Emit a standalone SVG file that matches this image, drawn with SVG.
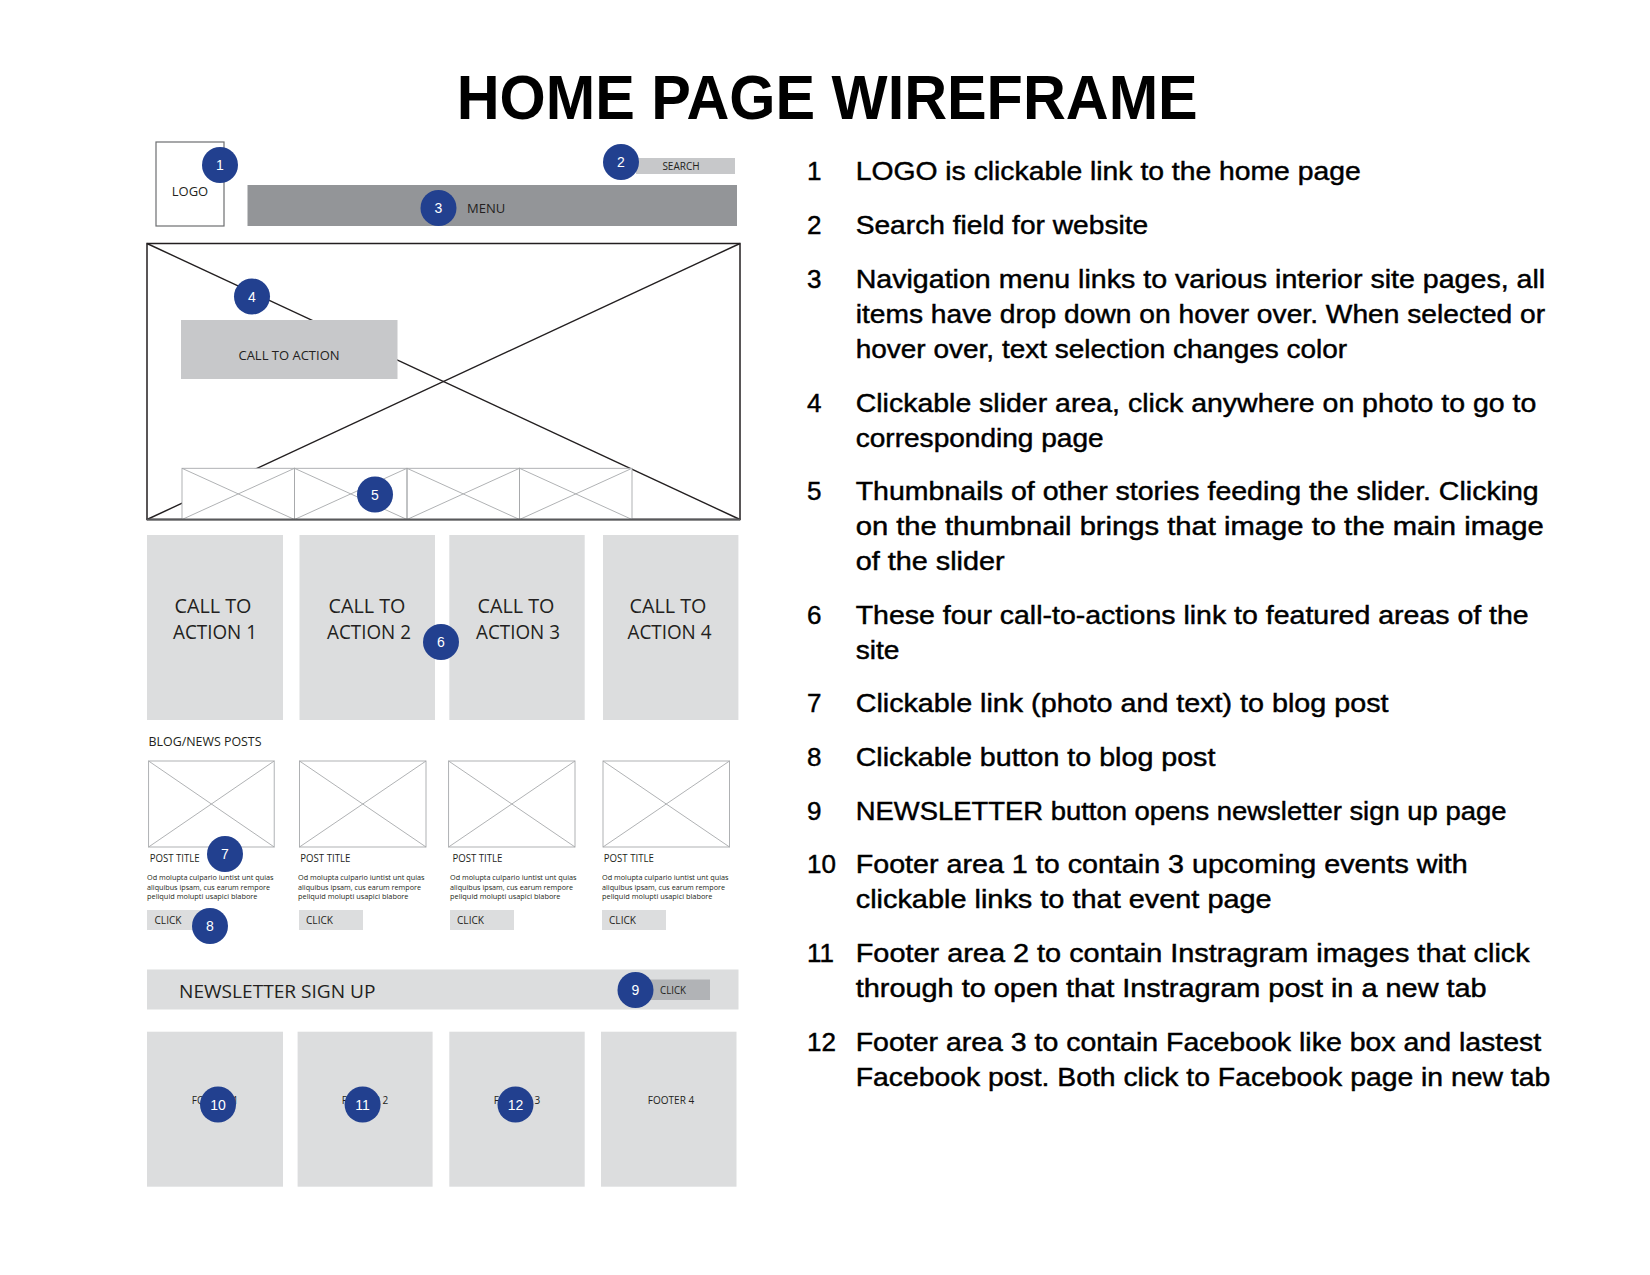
<svg xmlns="http://www.w3.org/2000/svg" width="1650" height="1275" viewBox="0 0 1650 1275">
<style>
  .wf { font-family: "Open Sans", "Liberation Sans", sans-serif; fill: #231f20; }
  .note { font-family: "Liberation Sans", Arial, sans-serif; font-size: 26px; fill: #000; stroke: #000; stroke-width: 0.45px; }
  .title { font-family: "Liberation Sans", Arial, sans-serif; font-size: 63px; font-weight: bold; fill: #000; }
  .badge circle { fill: #22408f; }
  .badge text { font-family: "Liberation Sans", Arial, sans-serif; font-size: 14px; fill: #fff; text-anchor: middle; }
  .lgray { fill: #dcddde; }
  .mgray { fill: #c7c8ca; }
  .thin { fill: #fff; stroke: #a7a9ac; stroke-width: 0.9; }
  .thinx { stroke: #a7a9ac; stroke-width: 0.9; fill: none; }
  .heavy { stroke: #231f20; stroke-width: 1.4; fill: none; }
</style>
<rect width="1650" height="1275" fill="#fff"/>

<text class="title" x="456.7" y="119" textLength="741" lengthAdjust="spacingAndGlyphs">HOME PAGE WIREFRAME</text>

<!-- header -->
<g id="logo">
  <rect x="156" y="142" width="68" height="84" fill="#fff" stroke="#6d6e71" stroke-width="1.2"/>
  <text class="wf" x="190" y="195.5" font-size="13" text-anchor="middle">LOGO</text>
</g>
<g id="search">
  <rect class="mgray" x="636" y="158" width="99" height="16"/>
  <text class="wf" x="681" y="169.5" font-size="10" text-anchor="middle">SEARCH</text>
</g>
<g id="menu">
  <rect x="247.5" y="185" width="489.5" height="41" fill="#939598"/>
  <text class="wf" x="467" y="212.5" font-size="13">MENU</text>
</g>

<!-- hero slider -->
<g id="slider">
  <rect x="147" y="243.5" width="593" height="276" fill="#fff" stroke="#231f20" stroke-width="1.5"/>
  <line class="heavy" x1="147" y1="243.5" x2="740" y2="519.5"/>
  <line class="heavy" x1="740" y1="243.5" x2="147" y2="519.5"/>
</g>
<g id="hero-cta">
  <rect class="mgray" x="181" y="320" width="216.5" height="59"/>
  <text class="wf" x="289" y="359.5" font-size="13" text-anchor="middle">CALL TO ACTION</text>
</g>
<g id="thumbnails">
  <rect x="182" y="468.3" width="450" height="51.2" fill="#fff"/>
  <g class="thinx">
    <rect x="182" y="468.3" width="112.5" height="51.2"/>
    <line x1="182" y1="468.3" x2="294.5" y2="519.5"/><line x1="294.5" y1="468.3" x2="182" y2="519.5"/>
    <rect x="294.5" y="468.3" width="112.5" height="51.2"/>
    <line x1="294.5" y1="468.3" x2="407" y2="519.5"/><line x1="407" y1="468.3" x2="294.5" y2="519.5"/>
    <rect x="407" y="468.3" width="112.5" height="51.2"/>
    <line x1="407" y1="468.3" x2="519.5" y2="519.5"/><line x1="519.5" y1="468.3" x2="407" y2="519.5"/>
    <rect x="519.5" y="468.3" width="112.5" height="51.2"/>
    <line x1="519.5" y1="468.3" x2="632" y2="519.5"/><line x1="632" y1="468.3" x2="519.5" y2="519.5"/>
  </g>
  <line x1="147" y1="519.5" x2="740" y2="519.5" stroke="#58595b" stroke-width="1.8"/>
</g>

<!-- call to action boxes -->
<g id="cta1">
  <rect class="lgray" x="147" y="535" width="136" height="185"/>
  <text class="wf" font-size="20" text-anchor="middle"><tspan x="213" y="613" textLength="77" lengthAdjust="spacingAndGlyphs">CALL TO</tspan><tspan x="215" y="638.7" textLength="84" lengthAdjust="spacingAndGlyphs">ACTION 1</tspan></text>
</g>
<g id="cta2">
  <rect class="lgray" x="299.5" y="535" width="135.5" height="185"/>
  <text class="wf" font-size="20" text-anchor="middle"><tspan x="367" y="613" textLength="77" lengthAdjust="spacingAndGlyphs">CALL TO</tspan><tspan x="369" y="638.7" textLength="84" lengthAdjust="spacingAndGlyphs">ACTION 2</tspan></text>
</g>
<g id="cta3">
  <rect class="lgray" x="449.3" y="535" width="135.4" height="185"/>
  <text class="wf" font-size="20" text-anchor="middle"><tspan x="516" y="613" textLength="77" lengthAdjust="spacingAndGlyphs">CALL TO</tspan><tspan x="518" y="638.7" textLength="84" lengthAdjust="spacingAndGlyphs">ACTION 3</tspan></text>
</g>
<g id="cta4">
  <rect class="lgray" x="603" y="535" width="135.4" height="185"/>
  <text class="wf" font-size="20" text-anchor="middle"><tspan x="668" y="613" textLength="77" lengthAdjust="spacingAndGlyphs">CALL TO</tspan><tspan x="669.5" y="638.7" textLength="84" lengthAdjust="spacingAndGlyphs">ACTION 4</tspan></text>
</g>

<!-- blog posts -->
<text class="wf" x="148.5" y="745.5" font-size="12" textLength="113" lengthAdjust="spacingAndGlyphs">BLOG/NEWS POSTS</text>
<g id="post1">
  <rect class="thin" x="148.6" y="761" width="125.6" height="86"/>
  <line class="thinx" x1="148.6" y1="761" x2="274.2" y2="847"/><line class="thinx" x1="274.2" y1="761" x2="148.6" y2="847"/>
  <text class="wf" x="149.7" y="862" font-size="10" textLength="50" lengthAdjust="spacingAndGlyphs">POST TITLE</text>
  <text class="wf" font-size="8"><tspan x="147" y="879.5" textLength="126.5" lengthAdjust="spacingAndGlyphs">Od molupta culpario iuntist unt quias</tspan><tspan x="147" y="889.5" textLength="123" lengthAdjust="spacingAndGlyphs">aliquibus ipsam, cus earum rempore</tspan><tspan x="147" y="899" textLength="110.5" lengthAdjust="spacingAndGlyphs">peliquid molupti usapici blabore</tspan></text>
  <rect class="lgray" x="147" y="910" width="64" height="20"/>
  <text class="wf" x="154.5" y="924" font-size="10" textLength="27" lengthAdjust="spacingAndGlyphs">CLICK</text>
</g>
<g id="post2">
  <rect class="thin" x="299.5" y="761" width="126.5" height="86"/>
  <line class="thinx" x1="299.5" y1="761" x2="426" y2="847"/><line class="thinx" x1="426" y1="761" x2="299.5" y2="847"/>
  <text class="wf" x="300.3" y="862" font-size="10" textLength="50" lengthAdjust="spacingAndGlyphs">POST TITLE</text>
  <text class="wf" font-size="8"><tspan x="298" y="879.5" textLength="126.5" lengthAdjust="spacingAndGlyphs">Od molupta culpario iuntist unt quias</tspan><tspan x="298" y="889.5" textLength="123" lengthAdjust="spacingAndGlyphs">aliquibus ipsam, cus earum rempore</tspan><tspan x="298" y="899" textLength="110.5" lengthAdjust="spacingAndGlyphs">peliquid molupti usapici blabore</tspan></text>
  <rect class="lgray" x="299" y="910" width="64" height="20"/>
  <text class="wf" x="306" y="924" font-size="10" textLength="27" lengthAdjust="spacingAndGlyphs">CLICK</text>
</g>
<g id="post3">
  <rect class="thin" x="448.6" y="761" width="126.4" height="86"/>
  <line class="thinx" x1="448.6" y1="761" x2="575" y2="847"/><line class="thinx" x1="575" y1="761" x2="448.6" y2="847"/>
  <text class="wf" x="452.4" y="862" font-size="10" textLength="50" lengthAdjust="spacingAndGlyphs">POST TITLE</text>
  <text class="wf" font-size="8"><tspan x="450" y="879.5" textLength="126.5" lengthAdjust="spacingAndGlyphs">Od molupta culpario iuntist unt quias</tspan><tspan x="450" y="889.5" textLength="123" lengthAdjust="spacingAndGlyphs">aliquibus ipsam, cus earum rempore</tspan><tspan x="450" y="899" textLength="110.5" lengthAdjust="spacingAndGlyphs">peliquid molupti usapici blabore</tspan></text>
  <rect class="lgray" x="450" y="910" width="64" height="20"/>
  <text class="wf" x="457" y="924" font-size="10" textLength="27" lengthAdjust="spacingAndGlyphs">CLICK</text>
</g>
<g id="post4">
  <rect class="thin" x="603" y="761" width="126.5" height="86"/>
  <line class="thinx" x1="603" y1="761" x2="729.5" y2="847"/><line class="thinx" x1="729.5" y1="761" x2="603" y2="847"/>
  <text class="wf" x="603.8" y="862" font-size="10" textLength="50" lengthAdjust="spacingAndGlyphs">POST TITLE</text>
  <text class="wf" font-size="8"><tspan x="602" y="879.5" textLength="126.5" lengthAdjust="spacingAndGlyphs">Od molupta culpario iuntist unt quias</tspan><tspan x="602" y="889.5" textLength="123" lengthAdjust="spacingAndGlyphs">aliquibus ipsam, cus earum rempore</tspan><tspan x="602" y="899" textLength="110.5" lengthAdjust="spacingAndGlyphs">peliquid molupti usapici blabore</tspan></text>
  <rect class="lgray" x="602" y="910" width="64" height="20"/>
  <text class="wf" x="609" y="924" font-size="10" textLength="27" lengthAdjust="spacingAndGlyphs">CLICK</text>
</g>

<!-- newsletter -->
<g id="newsletter">
  <rect class="lgray" x="147" y="969.5" width="591.5" height="40"/>
  <text class="wf" x="179" y="998" font-size="18.5" textLength="196.5" lengthAdjust="spacingAndGlyphs">NEWSLETTER SIGN UP</text>
  <rect x="646" y="979.5" width="64" height="20.5" fill="#b1b3b6"/>
  <text class="wf" x="660" y="993.5" font-size="10" textLength="26" lengthAdjust="spacingAndGlyphs">CLICK</text>
</g>

<!-- footers -->
<g id="footer1">
  <rect class="lgray" x="147" y="1031.7" width="136" height="155"/>
  <text class="wf" x="215" y="1103.5" font-size="10" text-anchor="middle">FOOTER 1</text>
</g>
<g id="footer2">
  <rect class="lgray" x="297.6" y="1031.7" width="135" height="155"/>
  <text class="wf" x="365" y="1103.5" font-size="10" text-anchor="middle">FOOTER 2</text>
</g>
<g id="footer3">
  <rect class="lgray" x="449.3" y="1031.7" width="135.4" height="155"/>
  <text class="wf" x="517" y="1103.5" font-size="10" text-anchor="middle">FOOTER 3</text>
</g>
<g id="footer4">
  <rect class="lgray" x="601" y="1031.7" width="135.5" height="155"/>
  <text class="wf" x="671" y="1103.5" font-size="10" text-anchor="middle">FOOTER 4</text>
</g>

<!-- numbered badges -->
<g id="badges" class="badge">
  <g id="badge1"><circle cx="220" cy="165" r="18"/><text x="220" y="170">1</text></g>
  <g id="badge2"><circle cx="621" cy="162" r="18"/><text x="621" y="167">2</text></g>
  <g id="badge3"><circle cx="438.5" cy="208" r="18"/><text x="438.5" y="213">3</text></g>
  <g id="badge4"><circle cx="252" cy="296.5" r="18"/><text x="252" y="301.5">4</text></g>
  <g id="badge5"><circle cx="375" cy="494.5" r="18"/><text x="375" y="499.5">5</text></g>
  <g id="badge6"><circle cx="441" cy="642" r="18"/><text x="441" y="647">6</text></g>
  <g id="badge7"><circle cx="225" cy="854" r="18"/><text x="225" y="859">7</text></g>
  <g id="badge8"><circle cx="210" cy="926" r="18"/><text x="210" y="931">8</text></g>
  <g id="badge9"><circle cx="635.5" cy="990" r="18"/><text x="635.5" y="995">9</text></g>
  <g id="badge10"><circle cx="218" cy="1104.5" r="18"/><text x="218" y="1109.5">10</text></g>
  <g id="badge11"><circle cx="362.6" cy="1104.5" r="18"/><text x="362.6" y="1109.5">11</text></g>
  <g id="badge12"><circle cx="515.5" cy="1104.5" r="18"/><text x="515.5" y="1109.5">12</text></g>
</g>

<!-- notes -->
<g id="notes" class="note">
  <text x="807" y="179.5">1</text>
  <text x="855.7" y="179.5" textLength="505" lengthAdjust="spacingAndGlyphs">LOGO is clickable link to the home page</text>
  <text x="807" y="233.5">2</text>
  <text x="855.7" y="233.5" textLength="292.5" lengthAdjust="spacingAndGlyphs">Search field for website</text>
  <text x="807" y="287.7">3</text>
  <text x="855.7" y="287.7" textLength="689.5" lengthAdjust="spacingAndGlyphs">Navigation menu links to various interior site pages, all</text>
  <text x="855.7" y="322.7" textLength="689.5" lengthAdjust="spacingAndGlyphs">items have drop down on hover over. When selected or</text>
  <text x="855.7" y="357.5" textLength="491.5" lengthAdjust="spacingAndGlyphs">hover over, text selection changes color</text>
  <text x="807" y="411.7">4</text>
  <text x="855.7" y="411.7" textLength="680.6" lengthAdjust="spacingAndGlyphs">Clickable slider area, click anywhere on photo to go to</text>
  <text x="855.7" y="446.7" textLength="248" lengthAdjust="spacingAndGlyphs">corresponding page</text>
  <text x="807" y="500">5</text>
  <text x="855.7" y="500" textLength="683" lengthAdjust="spacingAndGlyphs">Thumbnails of other stories feeding the slider. Clicking</text>
  <text x="855.7" y="535" textLength="688" lengthAdjust="spacingAndGlyphs">on the thumbnail brings that image to the main image</text>
  <text x="855.7" y="569.5" textLength="149" lengthAdjust="spacingAndGlyphs">of the slider</text>
  <text x="807" y="623.5">6</text>
  <text x="855.7" y="623.5" textLength="673" lengthAdjust="spacingAndGlyphs">These four call-to-actions link to featured areas of the</text>
  <text x="855.7" y="658.5" textLength="43.8" lengthAdjust="spacingAndGlyphs">site</text>
  <text x="807" y="711.7">7</text>
  <text x="855.7" y="711.7" textLength="532.8" lengthAdjust="spacingAndGlyphs">Clickable link (photo and text) to blog post</text>
  <text x="807" y="766">8</text>
  <text x="855.7" y="766" textLength="359.7" lengthAdjust="spacingAndGlyphs">Clickable button to blog post</text>
  <text x="807" y="820">9</text>
  <text x="855.7" y="820" textLength="650.7" lengthAdjust="spacingAndGlyphs">NEWSLETTER button opens newsletter sign up page</text>
  <text x="807" y="873.3">10</text>
  <text x="855.7" y="873.3" textLength="612" lengthAdjust="spacingAndGlyphs">Footer area 1 to contain 3 upcoming events with</text>
  <text x="855.7" y="908.3" textLength="416" lengthAdjust="spacingAndGlyphs">clickable links to that event page</text>
  <text x="807" y="961.7">11</text>
  <text x="855.7" y="961.7" textLength="674" lengthAdjust="spacingAndGlyphs">Footer area 2 to contain Instragram images that click</text>
  <text x="855.7" y="996.7" textLength="631" lengthAdjust="spacingAndGlyphs">through to open that Instragram post in a new tab</text>
  <text x="807" y="1050.7">12</text>
  <text x="855.7" y="1050.7" textLength="685.6" lengthAdjust="spacingAndGlyphs">Footer area 3 to contain Facebook like box and lastest</text>
  <text x="855.7" y="1085.7" textLength="694.5" lengthAdjust="spacingAndGlyphs">Facebook post. Both click to Facebook page in new tab</text>
</g>
</svg>
